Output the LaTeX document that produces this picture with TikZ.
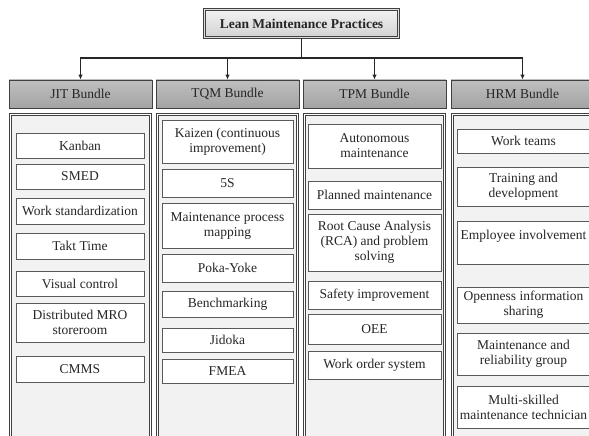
\documentclass[tikz,border=0pt]{standalone}
\usepackage{fontspec}
\setmainfont{Liberation Serif}
\usetikzlibrary{arrows.meta}

\tikzset{
  toptitle/.style={draw=black!75, line width=0.9pt, double=gray!25, double distance=1.4pt,
    top color=gray!10, bottom color=gray!35, minimum width=194pt, minimum height=28pt,
    inner sep=0pt, font=\fontsize{13.5}{15}\selectfont\bfseries},
  bundle/.style={draw=black!75, line width=0.8pt, top color=gray!50, bottom color=gray!72,
    minimum width=143pt, minimum height=28pt, inner sep=0pt},
  panel/.style={draw=black!75, line width=0.7pt, double=white, double distance=1.3pt,
    fill=gray!10, minimum width=140pt, minimum height=340pt, inner sep=0pt},
  item/.style={draw=black!65, line width=0.8pt, fill=white, align=center, inner sep=0pt},
  link/.style={black!85, line width=1.2pt},
}

\begin{document}
\begin{tikzpicture}[x=1pt, y=-1pt, font=\fontsize{13.5}{15}\selectfont, text=black!85]
\useasboundingbox (0,0) rectangle (589,436);
\clip (0,0) rectangle (589,436);

% ===== Top box =====
\node[toptitle] (lmp) at (301.5,23.5) {Lean Maintenance Practices};

% ===== Bundle headers and their panels =====
\foreach \nm/\x/\txt in {jit/80.5/JIT, tqm/227.5/TQM, tpm/374.5/TPM, hrm/522.5/HRM} {
  \node[panel] (\nm panel) at (\x,284.5) {};
  \node[bundle] (\nm) at (\x,94) {\txt{} Bundle};
}

% Connectors from the top box down to each bundle
\coordinate (hub) at (lmp.south |- 0,58);
\draw[link] (lmp.south) -- (hub);
\foreach \nm in {jit,tqm,tpm,hrm}
  \draw[link, -{Latex[length=5pt,width=4.5pt]}] (hub) -| (\nm.north);

% ===== JIT practices =====
\foreach \y/\h/\txt [count=\i] in {145.5/25/Kanban, 176.5/25/SMED,
    211/26/Work standardization, 246/26/Takt Time, 283.5/25/Visual control,
    322.5/39/{Distributed MRO\\storeroom}, 369/26/CMMS}
  \node[item, minimum width=128pt, minimum height=\h pt] (jit\i) at (80,\y) {\txt};

% ===== TQM practices =====
\foreach \y/\h/\txt [count=\i] in {141.5/43/{Kaizen (continuous\\improvement)},
    183/28/5S, 225.5/45/{Maintenance process\\mapping}, 268/28/Poka-Yoke,
    304/26/Benchmarking, 340/24/Jidoka, 371/24/FMEA}
  \node[item, minimum width=131pt, minimum height=\h pt] (tqm\i) at (227.5,\y) {\txt};

% ===== TPM practices =====
\foreach \y/\h/\txt [count=\i] in {146/44/{Autonomous\\maintenance},
    195/28/Planned maintenance,
    242.5/57/{Root Cause Analysis\\(RCA) and problem\\solving},
    295/28/Safety improvement, 329/30/OEE, 365/28/Work order system}
  \node[item, minimum width=133pt, minimum height=\h pt] (tpm\i) at (374.5,\y) {\txt};

% ===== HRM practices =====
\foreach \y/\h/\txt [count=\i] in {141/24/Work teams,
    186.5/39/{Training and\\development}, 242.5/43/{Employee involvement\\\mbox{}},
    305/36/{Openness information\\sharing},
    354/42/{Maintenance and\\reliability group},
    407/42/{Multi-skilled\\maintenance technician}}
  \node[item, minimum width=133pt, minimum height=\h pt] (hrm\i) at (523.5,\y) {\txt};

\end{tikzpicture}
\end{document}
